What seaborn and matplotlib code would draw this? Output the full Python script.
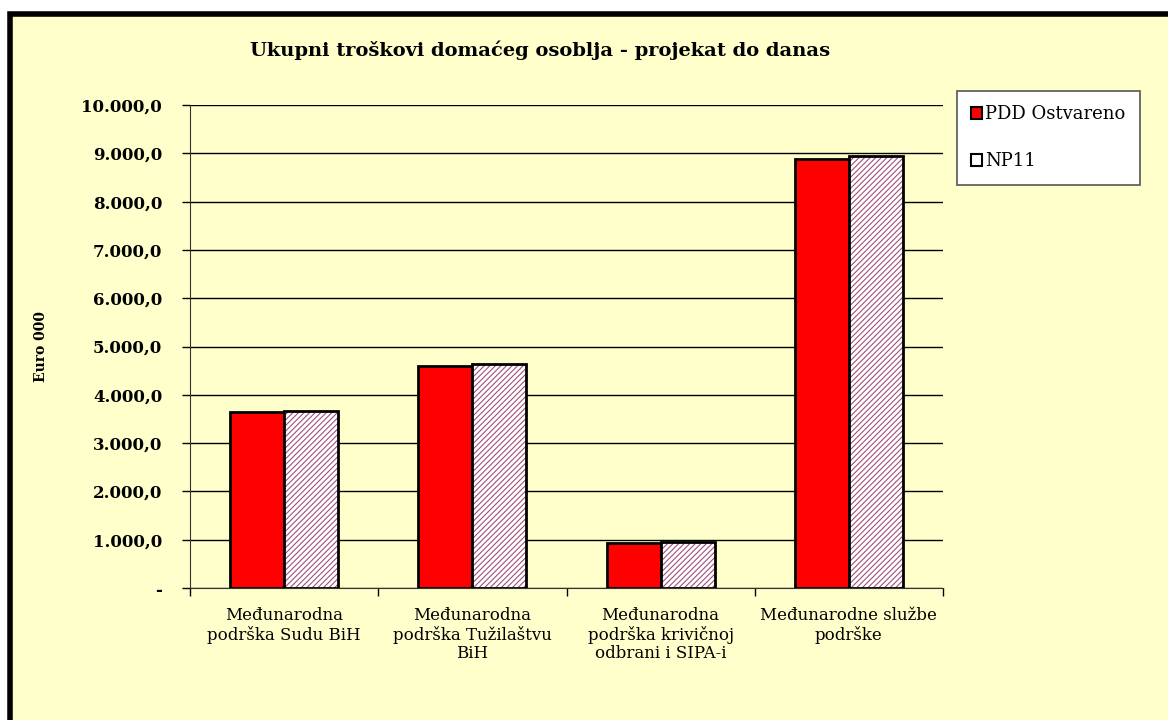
import numpy as np
import pandas as pd
import seaborn as sns
import matplotlib.pyplot as plt
from matplotlib.patches import Rectangle, Patch

# Data
categories = ['Međunarodna\npodrška Sudu BiH',
              'Međunarodna\npodrška Tužilaštvu\nBiH',
              'Međunarodna\npodrška krivičnoj\nodbrani i SIPA-i',
              'Međunarodne službe\npodrške']
pdd_ostvareno = [3644, 4596, 932, 8882]
np11 = [3665, 4640, 952, 8944]
y_ticks = [0, 1000, 2000, 3000, 4000, 5000, 6000, 7000, 8000, 9000, 10000]
y_tick_labels = ['-', '1.000,0', '2.000,0', '3.000,0', '4.000,0', '5.000,0',
                 '6.000,0', '7.000,0', '8.000,0', '9.000,0', '10.000,0']

df = pd.DataFrame({
    'Kategorija': categories * 2,
    'Serija': ['PDD Ostvareno'] * 4 + ['NP11'] * 4,
    'Vrijednost': pdd_ostvareno + np11,
})

sns.set_style('white')
plt.rcParams['font.family'] = ['DejaVu Serif']
plt.rcParams['hatch.linewidth'] = 0.8
for k in ['text.color', 'axes.labelcolor', 'xtick.color', 'ytick.color']:
    plt.rcParams[k] = 'black'

bg = '#FFFFCC'
hatch_col = '#A0507A'
fig = plt.figure(figsize=(11.68, 7.2), dpi=100, facecolor='white')
# chart frame (cropped at right and bottom like the original)
fig.patches.append(Rectangle((10 / 1168, -0.05), 1.1, 1 - 14 / 720 + 0.05,
                             transform=fig.transFigure, facecolor=bg,
                             edgecolor='black', linewidth=4, zorder=-10))

ax = fig.add_axes([190 / 1168, 1 - 588 / 720, 753 / 1168, 483 / 720])
ax.set_facecolor(bg)

sns.barplot(data=df, x='Kategorija', y='Vrijednost', hue='Serija',
            palette={'PDD Ostvareno': '#FF0000', 'NP11': 'white'},
            saturation=1, width=0.575, gap=0, edgecolor='black', linewidth=2,
            legend=False, ax=ax, zorder=3)

# hatching on the NP11 bars: coloured hatch, then a black outline on top
for p in list(ax.patches[4:8]):
    p.set_hatch('//////')
    p.set_edgecolor(hatch_col)
    p.set_linewidth(0)
    ax.add_patch(Rectangle((p.get_x(), p.get_y()), p.get_width(), p.get_height(),
                           facecolor='none', edgecolor='black', linewidth=2, zorder=4))

ax.set_ylim(0, 10000)
ax.set_xlim(-0.5, 3.5)
ax.set_yticks(y_ticks)
ax.set_yticklabels(y_tick_labels, fontsize=12, fontweight='bold')
ax.yaxis.grid(True, color='black', linewidth=1)
ax.set_axisbelow(True)
ax.tick_params(axis='y', length=6, width=1, direction='out', left=True, pad=14)
ax.set_xticks(range(4))
ax.set_xticklabels(categories, fontsize=12, linespacing=1.1)
ax.tick_params(axis='x', length=0, pad=14)
ax.set_xticks([-0.5, 0.5, 1.5, 2.5, 3.5], minor=True)
ax.tick_params(axis='x', which='minor', length=6, width=1, bottom=True)

for s in ['top', 'right']:
    ax.spines[s].set_visible(False)
ax.spines['left'].set_color('#333333')
ax.spines['bottom'].set_color('#333333')

ax.set_xlabel('')
ax.set_ylabel('Euro 000', fontsize=10, fontweight='bold', labelpad=24)

fig.text(540 / 1168, 1 - 50 / 720,
         'Ukupni troškovi domaćeg osoblja - projekat do danas',
         ha='center', va='center', fontsize=14, fontweight='bold')

handles = [Patch(facecolor='#FF0000', edgecolor='black', linewidth=1.5),
           Patch(facecolor='white', edgecolor='black', linewidth=1.5)]
leg = fig.legend(handles, ['PDD Ostvareno', 'NP11'],
                 loc='upper left', bbox_to_anchor=(957 / 1168, 1 - 91 / 720),
                 frameon=True, fancybox=False, framealpha=1, fontsize=13,
                 handlelength=0.6, handleheight=0.6, handletextpad=0.15,
                 labelspacing=1.6, borderpad=0.8, borderaxespad=0)
leg.get_frame().set_edgecolor('#555555')
leg.get_frame().set_facecolor('white')
leg.get_frame().set_linewidth(1.2)

fig.savefig('out.png', dpi=100, facecolor=fig.get_facecolor())
